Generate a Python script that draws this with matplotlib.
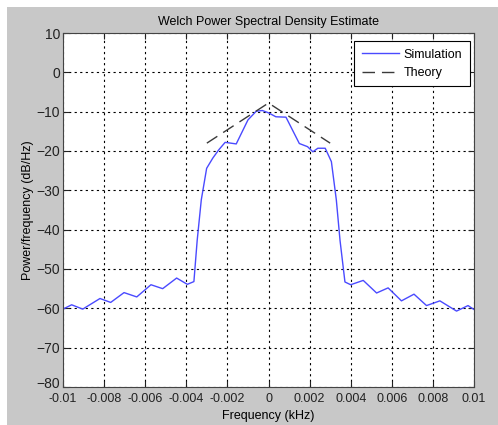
import matplotlib.pyplot as plt
import matplotlib.transforms as mtransforms
from matplotlib.patches import Rectangle

# Simulation PSD
sim_freq = [-0.01, -0.00958, -0.00904, -0.0082, -0.00768, -0.00703, -0.00641,
            -0.00572, -0.00515, -0.00447, -0.00395, -0.00363, -0.00347, -0.00327,
            -0.00301, -0.00271, -0.00242, -0.00211, -0.00157, -0.001, -0.0006,
            -0.0003, 0.0, 0.00036, 0.00085, 0.0015, 0.0019, 0.00216, 0.0024,
            0.00276, 0.00306, 0.0033, 0.00348, 0.00372, 0.004, 0.00461, 0.00526,
            0.00582, 0.00647, 0.00708, 0.00769, 0.00834, 0.00915, 0.00971, 0.01]
sim_psd = [-60.2, -59.1, -60.2, -57.5, -58.5, -56.0, -57.1,
           -54.0, -55.0, -52.3, -53.9, -53.2, -42.7, -32.4,
           -24.4, -21.8, -19.7, -17.8, -18.2, -12.1, -9.9,
           -9.7, -10.3, -11.3, -11.4, -18.1, -18.9, -20.2, -19.3,
           -19.3, -22.7, -32.4, -42.7, -53.3, -54.0, -52.9, -56.1,
           -54.8, -58.1, -56.4, -59.3, -58.1, -60.7, -59.3, -60.3]

theory_freq = [-0.003, 0.0, 0.003]
theory_psd = [-18.0, -7.8, -18.0]

xticks = [-0.01, -0.008, -0.006, -0.004, -0.002, 0, 0.002, 0.004, 0.006, 0.008, 0.01]
xtick_labels = ['-0.01', '-0.008', '-0.006', '-0.004', '-0.002', '0',
                '0.002', '0.004', '0.006', '0.008', '0.01']
yticks = list(range(-80, 11, 10))

plt.rcParams['font.family'] = ['Liberation Sans', 'DejaVu Sans']
plt.rcParams['font.size'] = 9

fig = plt.figure(figsize=(4.98, 4.25), dpi=100, facecolor='white')
# gray MATLAB-style figure background, with a thin white margin top/left
fig.patches.append(Rectangle((7 / 498, 0), 1, 1 - 7 / 425, transform=fig.transFigure,
                             facecolor='#c8c8c8', edgecolor='none', zorder=-1))

ax = fig.add_axes([63 / 498, 1 - 387 / 425, (474 - 63) / 498, (387 - 33) / 425])
ax.set_facecolor('white')

ax.plot(sim_freq, sim_psd, color='#4a4aff', linewidth=1.0, label='Simulation')
ax.plot(theory_freq, theory_psd, color='#3a3a3a', linewidth=1.0,
        dashes=(9, 5), label='Theory')

ax.set_xlim(-0.01, 0.01)
ax.set_ylim(-80, 10)
ax.set_xticks(xticks)
ax.set_xticklabels(xtick_labels)
ax.set_yticks(yticks)

ax.grid(True, color='black', linestyle=(0, (2, 3)), linewidth=0.8)
ax.tick_params(direction='in', top=True, right=True, length=4, colors='#222222')
ax.tick_params(axis='x', pad=4, labelsize=9)
ax.tick_params(axis='y', pad=2, labelsize=10)
for s in ax.spines.values():
    s.set_color('#444444')
    s.set_linewidth(0.8)

# lift the bottom y label a little so it sits above the first x label
lbl = ax.get_yticklabels()[0]
lbl.set_transform(lbl.get_transform() +
                  mtransforms.ScaledTranslation(0, 4 / 100, fig.dpi_scale_trans))

ax.set_title('Welch Power Spectral Density Estimate', fontsize=9, pad=6)
ax.set_xlabel('Frequency (kHz)', fontsize=9, labelpad=4)
ax.set_ylabel('Power/frequency (dB/Hz)', fontsize=9, labelpad=2)

leg = ax.legend(loc='upper right', bbox_to_anchor=(0.99, 0.977), borderaxespad=0,
                fancybox=False, framealpha=1, fontsize=9, edgecolor='black',
                handlelength=3.0, handletextpad=0.35, borderpad=0.6,
                labelspacing=0.5)
leg.get_frame().set_linewidth(0.8)

fig.savefig('out.png', dpi=100, facecolor=fig.get_facecolor())
